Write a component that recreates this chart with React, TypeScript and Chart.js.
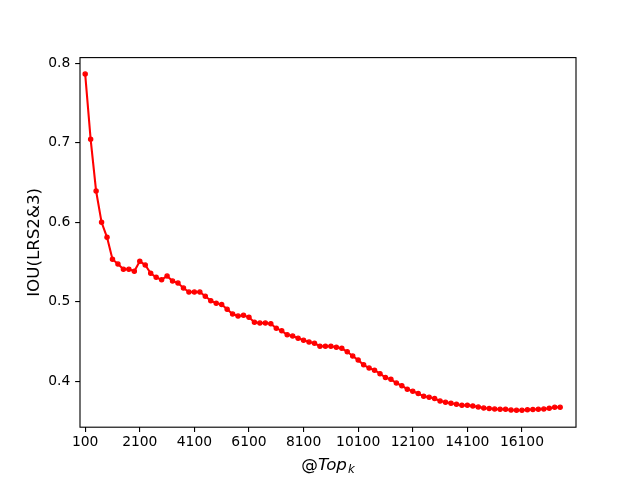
import React, { useEffect, useRef } from "react";
import { Chart, registerables } from "chart.js";

Chart.register(...registerables);

const TOPK = [
  100, 300, 500, 700, 900, 1100, 1300, 1500, 1700, 1900,
  2100, 2300, 2500, 2700, 2900, 3100, 3300, 3500, 3700, 3900,
  4100, 4300, 4500, 4700, 4900, 5100, 5300, 5500, 5700, 5900,
  6100, 6300, 6500, 6700, 6900, 7100, 7300, 7500, 7700, 7900,
  8100, 8300, 8500, 8700, 8900, 9100, 9300, 9500, 9700, 9900,
  10100, 10300, 10500, 10700, 10900, 11100, 11300, 11500, 11700, 11900,
  12100, 12300, 12500, 12700, 12900, 13100, 13300, 13500, 13700, 13900,
  14100, 14300, 14500, 14700, 14900, 15100, 15300, 15500, 15700, 15900,
  16100, 16300, 16500, 16700, 16900, 17100, 17300, 17500,
];

const IOU = [
  0.7865, 0.7044, 0.6394, 0.6, 0.5811, 0.5535, 0.5475, 0.5409, 0.5409, 0.5384,
  0.5509, 0.5463, 0.5358, 0.5308, 0.5278, 0.5325, 0.5262, 0.5236, 0.5174, 0.5123,
  0.5123, 0.5123, 0.507, 0.5015, 0.4981, 0.4966, 0.4906, 0.4847, 0.4821, 0.4831,
  0.4805, 0.4743, 0.4733, 0.4733, 0.4725, 0.4668, 0.4635, 0.4586, 0.457, 0.4541,
  0.4516, 0.4494, 0.4479, 0.4442, 0.4442, 0.4442, 0.4429, 0.4415, 0.4372, 0.4318,
  0.4267, 0.4208, 0.4167, 0.414, 0.4096, 0.4048, 0.4025, 0.3979, 0.3945, 0.3901,
  0.3875, 0.3847, 0.3811, 0.3799, 0.3784, 0.3752, 0.3736, 0.3725, 0.3712, 0.3698,
  0.3698, 0.3691, 0.3677, 0.3664, 0.3658, 0.3652, 0.3648, 0.3648, 0.3639, 0.3636,
  0.3636, 0.3642, 0.3645, 0.3648, 0.3652, 0.366, 0.3674, 0.3674,
];

const X_TICKS = [100, 2100, 4100, 6100, 8100, 10100, 12100, 14100, 16100];
const Y_TICKS = [0.4, 0.5, 0.6, 0.7, 0.8];

const Y_LABEL = "IOU(LRS2&3)";
const X_LABEL_MAIN = "Top";
const X_LABEL_PREFIX = "@";
const X_LABEL_SUB = "k";

const FONT = "'DejaVu Sans', sans-serif";
const PT = 100 / 72;

const framePlugin = {
  id: "frame",
  afterDraw(chart: any) {
    const { ctx, chartArea } = chart;
    const { left, right, top, bottom } = chartArea;
    ctx.save();
    ctx.strokeStyle = "#000";
    ctx.lineWidth = 0.8 * PT;
    ctx.strokeRect(left, top, right - left, bottom - top);

    // y label
    ctx.fillStyle = "#000";
    ctx.font = `${12 * PT}px ${FONT}`;
    ctx.textAlign = "center";
    ctx.textBaseline = "alphabetic";
    ctx.save();
    ctx.translate(39.3, (top + bottom) / 2);
    ctx.rotate(-Math.PI / 2);
    ctx.fillText(Y_LABEL, 0, 0);
    ctx.restore();

    // x label: @Top_k (mathtext style)
    const big = 12 * PT;
    const small = big * 0.7;
    const fUp = `${big}px ${FONT}`;
    const fIt = `italic ${big}px ${FONT}`;
    const fSub = `italic ${small}px ${FONT}`;
    ctx.textAlign = "left";
    ctx.font = fUp;
    const w1 = ctx.measureText(X_LABEL_PREFIX).width;
    ctx.font = fIt;
    const w2 = ctx.measureText(X_LABEL_MAIN).width;
    ctx.font = fSub;
    const w3 = ctx.measureText(X_LABEL_SUB).width;
    const total = w1 + w2 + w3 + 1;
    let x = (left + right) / 2 - total / 2;
    const base = 469.5;
    ctx.font = fUp;
    ctx.fillText(X_LABEL_PREFIX, x, base);
    x += w1;
    ctx.font = fIt;
    ctx.fillText(X_LABEL_MAIN, x, base);
    x += w2 + 1;
    ctx.font = fSub;
    ctx.fillText(X_LABEL_SUB, x, base + 3.5);
    ctx.restore();
  },
};

export default function App() {
  const ref = useRef<HTMLCanvasElement | null>(null);

  useEffect(() => {
    if (!ref.current) return;
    const tickLen = 3.5 * PT;
    const chart = new Chart(ref.current, {
      type: "line",
      data: {
        datasets: [
          {
            data: TOPK.map((x, i) => ({ x, y: IOU[i] })),
            borderColor: "#ff0000",
            backgroundColor: "#ff0000",
            borderWidth: 1.5 * PT,
            pointRadius: 2.1,
            pointBorderWidth: 1.3,
            pointBackgroundColor: "#ff0000",
            pointBorderColor: "#ff0000",
            tension: 0,
            fill: false,
          },
        ],
      },
      options: {
        animation: false,
        responsive: false,
        maintainAspectRatio: false,
        layout: { padding: { top: 57.6, right: 64, bottom: 0, left: 0 } },
        plugins: {
          legend: { display: false },
          tooltip: { enabled: false },
          title: { display: false },
        },
        scales: {
          x: {
            type: "linear",
            min: -90,
            max: 18080,
            afterBuildTicks: (s: any) => {
              s.ticks = X_TICKS.map((v) => ({ value: v }));
            },
            afterFit: (s: any) => {
              s.height = 52.8;
            },
            grid: {
              display: true,
              drawOnChartArea: false,
              drawTicks: true,
              tickLength: tickLen,
              color: "#000",
              lineWidth: 0.8 * PT,
            },
            border: { display: false },
            ticks: {
              autoSkip: false,
              maxRotation: 0,
              minRotation: 0,
              padding: 2,
              color: "#000",
              font: { family: FONT, size: 10 * PT },
              callback: (v: any) => String(v),
            },
          },
          y: {
            type: "linear",
            min: 0.3423,
            max: 0.8072,
            afterBuildTicks: (s: any) => {
              s.ticks = Y_TICKS.map((v) => ({ value: v }));
            },
            afterFit: (s: any) => {
              s.width = 80;
            },
            grid: {
              display: true,
              drawOnChartArea: false,
              drawTicks: true,
              tickLength: tickLen,
              color: "#000",
              lineWidth: 0.8 * PT,
            },
            border: { display: false },
            ticks: {
              autoSkip: false,
              padding: 3.5 * PT,
              color: "#000",
              font: { family: FONT, size: 10 * PT },
              callback: (v: any) => Number(v).toFixed(1),
            },
          },
        },
      },
      plugins: [framePlugin],
    });
    return () => chart.destroy();
  }, []);

  return (
    <div
      style={{
        position: "fixed",
        left: 0,
        top: 0,
        width: 640,
        height: 480,
        background: "#fff",
      }}
    >
      <canvas ref={ref} width={640} height={480} />
    </div>
  );
}
